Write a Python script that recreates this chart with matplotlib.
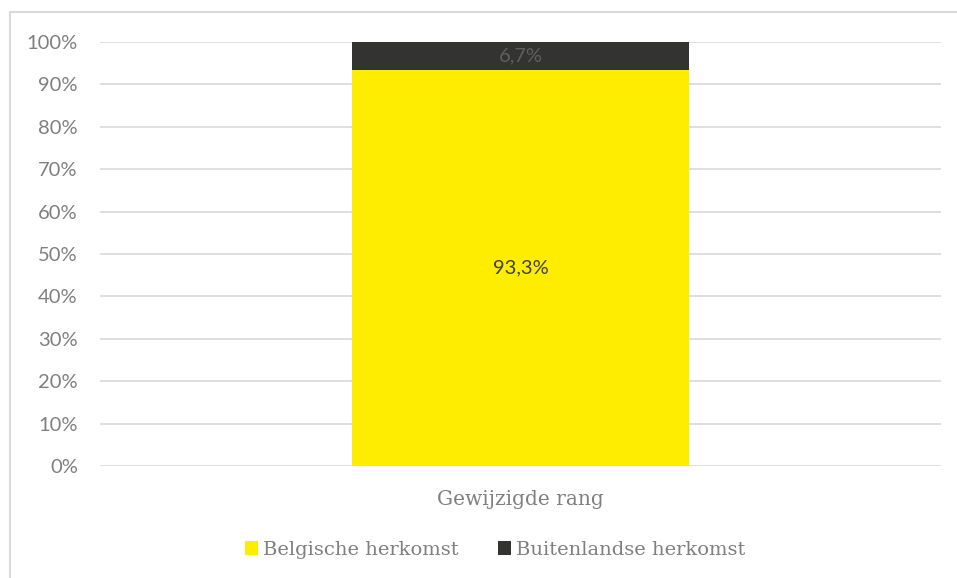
import matplotlib
matplotlib.use("Agg")
from matplotlib import pyplot as plt
from matplotlib.patches import Rectangle

categories = ["Gewijzigde rang"]
belgisch = [93.3]
buitenlands = [6.7]
series_names = ["Belgische herkomst", "Buitenlandse herkomst"]
yticks = [0, 10, 20, 30, 40, 50, 60, 70, 80, 90, 100]

yellow = "#FFED00"
dark = "#333332"
grey = "#7f7f7f"

fig = plt.figure(figsize=(9.57, 5.78), dpi=100)
ax = fig.add_axes([100/957, (578-466)/578, 841/957, 424/578])

# light frame around the chart area
fig.patches.append(Rectangle((10/957, -0.1), 1.1, (578-12)/578 + 0.1,
                             transform=fig.transFigure, fill=False,
                             edgecolor="#d9d9d9", linewidth=1.5))

x = range(len(categories))
b1 = ax.bar(x, belgisch, width=0.4, color=yellow, label=series_names[0], zorder=2)
b2 = ax.bar(x, buitenlands, width=0.4, bottom=belgisch, color=dark,
            label=series_names[1], zorder=2)

for i in x:
    ax.text(i, belgisch[i] / 2, f"{belgisch[i]:.1f}%".replace(".", ","),
            ha="center", va="center", color="#404040", fontsize=14.5, family="Lato")
    ax.text(i, belgisch[i] + buitenlands[i] / 2,
            f"{buitenlands[i]:.1f}%".replace(".", ","),
            ha="center", va="center", color="#5f5f5f", fontsize=14.5, family="Lato")

ax.set_xlim(-0.5, 0.5)
ax.set_ylim(0, 100)
ax.set_yticks(yticks)
ax.set_yticklabels([f"{t}%" for t in yticks], family="Lato", fontsize=14.5, color=grey)
ax.set_xticks(list(x))
ax.set_xticklabels(categories, family="DejaVu Serif", fontsize=14.5, color=grey)
ax.tick_params(length=0)
ax.tick_params(axis="y", pad=16)
ax.tick_params(axis="x", pad=17)
ax.grid(axis="y", color="#d9d9d9", linewidth=1.2, zorder=0)
for s in ax.spines.values():
    s.set_visible(False)

leg = fig.legend(handles=[b1, b2], loc="center", bbox_to_anchor=(495/957, (578-550)/578),
                 ncol=2, frameon=False, handlelength=0.7, handleheight=0.7,
                 handletextpad=0.25, columnspacing=2.0,
                 prop={"family": "DejaVu Serif", "size": 14})
for t in leg.get_texts():
    t.set_color(grey)

fig.savefig("out.png", dpi=100)
